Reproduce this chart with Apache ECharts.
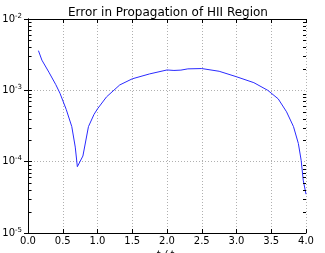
<!DOCTYPE html>
<html>
<head>
<meta charset="utf-8">
<script src="https://cdn.jsdelivr.net/npm/echarts@6/dist/echarts.min.js"></script>
<style>
  html, body { margin: 0; padding: 0; background: #fff; }
  #chart { width: 325px; height: 253px; }
</style>
</head>
<body>
<div id="chart"></div>
<script>
var timeValues = [0.15, 0.2, 0.3, 0.4, 0.46, 0.55, 0.63, 0.68, 0.71, 0.79, 0.87, 0.95, 1.0, 1.13, 1.32, 1.5, 1.75, 2.0, 2.1, 2.2, 2.3, 2.5, 2.75, 3.0, 3.25, 3.45, 3.6, 3.72, 3.82, 3.89, 3.93, 3.96, 4.0];
var errorValues = [3.6e-3, 2.65e-3, 1.8e-3, 1.2e-3, 9.1e-4, 5.4e-4, 3.1e-4, 1.6e-4, 8.5e-5, 1.2e-4, 3.1e-4, 4.6e-4, 5.5e-4, 8.1e-4, 1.19e-3, 1.45e-3, 1.7e-3, 1.93e-3, 1.9e-3, 1.92e-3, 2.0e-3, 2.02e-3, 1.85e-3, 1.55e-3, 1.28e-3, 1.0e-3, 7.6e-4, 5.0e-4, 3.1e-4, 1.8e-4, 1.05e-4, 5.5e-5, 3.5e-5];
var xTicks = [0.0, 0.5, 1.0, 1.5, 2.0, 2.5, 3.0, 3.5, 4.0];
var yTickExponents = [-5, -4, -3, -2];

var xMin = xTicks[0], xMax = xTicks[xTicks.length - 1];
var yMin = Math.pow(10, yTickExponents[0]);
var yMax = Math.pow(10, yTickExponents[yTickExponents.length - 1]);

// minor log ticks 2..9 in each decade
var minorTickValues = [];
for (var i = 0; i < yTickExponents.length - 1; i++) {
    for (var m = 2; m <= 9; m++) {
        minorTickValues.push(m * Math.pow(10, yTickExponents[i]));
    }
}

var lineData = timeValues.map(function (t, i) { return [t, errorValues[i]]; });

var font = '"Liberation Sans Narrow", "DejaVu Sans", sans-serif';
var chart = echarts.init(document.getElementById('chart'));

var tickStyle = { show: true, inside: true, length: 4, lineStyle: { color: '#000', width: 1 } };
var axisLineStyle = { show: true, lineStyle: { color: '#000', width: 1 } };
var gridLine = { show: true, lineStyle: { color: '#b0b0b0', type: [1, 2], width: 1 } };

function minorTickSeries(xValue, dir) {
    return {
        type: 'custom',
        silent: true,
        clip: false,
        data: minorTickValues.map(function (v) { return [xValue, v]; }),
        encode: { x: 0, y: 1 },
        renderItem: function (params, api) {
            var p = api.coord([api.value(0), api.value(1)]);
            var y = Math.round(p[1]) + 0.5;
            return {
                type: 'line',
                shape: { x1: p[0], y1: y, x2: p[0] + dir * 3, y2: y },
                style: { stroke: '#000', lineWidth: 1 }
            };
        },
        z: 4
    };
}

chart.setOption({
    animation: false,
    title: {
        text: 'Error in Propagation of HII Region',
        left: 63,
        top: 2,
        textStyle: { fontFamily: font, fontSize: 12, fontWeight: 'normal', color: '#000' }
    },
    grid: { left: 28, right: 19, top: 19, bottom: 20, outerBoundsMode: 'none', containLabel: false },
    xAxis: [{
        type: 'value',
        min: xMin, max: xMax, interval: 0.5,
        name: 't / t\u209b',
        nameLocation: 'middle',
        nameGap: 17,
        nameTextStyle: { fontFamily: font, fontSize: 10, fontStyle: 'italic', color: '#000' },
        axisLine: axisLineStyle,
        axisTick: tickStyle,
        axisLabel: {
            fontFamily: font, fontSize: 10, color: '#000', margin: 3,
            formatter: function (v) { return v.toFixed(1); }
        },
        splitLine: gridLine
    }, {
        type: 'value',
        position: 'top',
        min: xMin, max: xMax, interval: 0.5,
        axisLine: axisLineStyle,
        axisTick: tickStyle,
        axisLabel: { show: false },
        splitLine: { show: false }
    }],
    yAxis: [{
        type: 'log',
        logBase: 10,
        min: yMin, max: yMax,
        axisLine: axisLineStyle,
        axisTick: tickStyle,
        axisLabel: {
            margin: 6,
            formatter: function (v) {
                return '{b|10}{s|' + Math.round(Math.log10(v)) + '}';
            },
            rich: {
                b: { fontFamily: font, fontSize: 10, color: '#000' },
                s: { fontFamily: font, fontSize: 7, color: '#000', verticalAlign: 'top', padding: [0, 0, 6, 0] }
            }
        },
        splitLine: gridLine
    }, {
        type: 'log',
        logBase: 10,
        position: 'right',
        min: yMin, max: yMax,
        axisLine: axisLineStyle,
        axisTick: tickStyle,
        axisLabel: { show: false },
        splitLine: { show: false }
    }],
    series: [{
        type: 'line',
        data: lineData,
        showSymbol: false,
        lineStyle: { color: '#2a2aff', width: 1 },
        z: 3
    }, minorTickSeries(xMin + 0.008, 1), minorTickSeries(xMax, -1)]
});
</script>
</body>
</html>
